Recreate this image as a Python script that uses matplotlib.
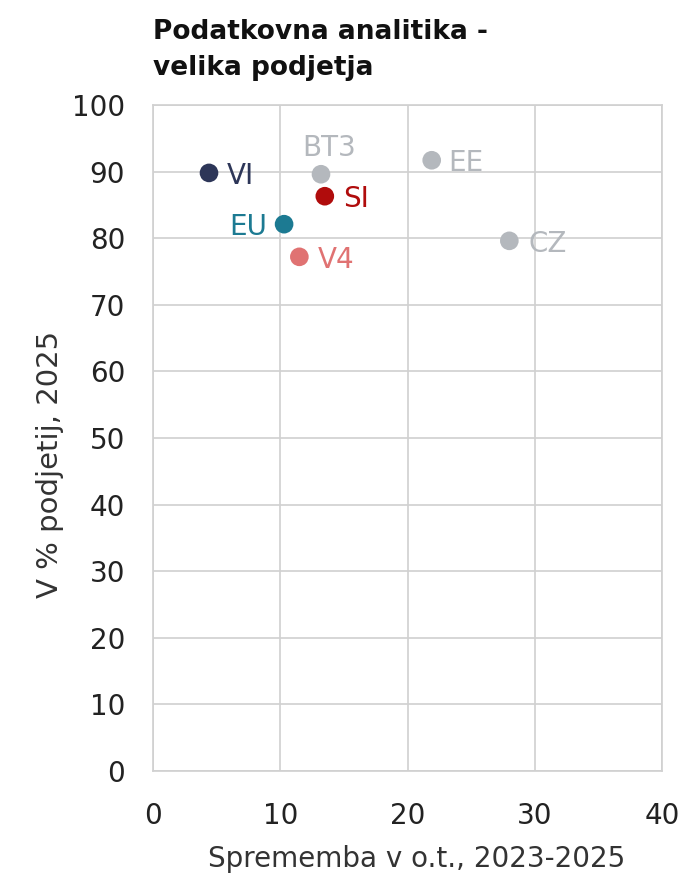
import matplotlib.pyplot as plt

plt.rcParams['font.family'] = 'DejaVu Sans'

labels = ['VI', 'BT3', 'SI', 'EE', 'EU', 'V4', 'CZ']
change = [4.4, 13.2, 13.5, 21.9, 10.3, 11.5, 28.0]
share = [89.8, 89.6, 86.3, 91.7, 82.1, 77.2, 79.6]
colors = ['#2d3658', '#b4b8bd', '#b00c0c', '#b4b8bd', '#1c7a92', '#e07272', '#b4b8bd']
# label placement: offset in points and alignment
offsets = {'VI': (13, 0, 'left'), 'BT3': (6, 21, 'center'), 'SI': (13, 0, 'left'),
           'EE': (12, 0, 'left'), 'EU': (-12, 0, 'right'), 'V4': (13, 0, 'left'),
           'CZ': (14, 0, 'left')}

fig = plt.figure(figsize=(6.84, 8.77), dpi=100)
ax = fig.add_axes([0.2237, 0.1209, 0.7442, 0.7594])

ax.scatter(change, share, c=colors, s=180, zorder=3, linewidths=0)
for lab, x, y, col in zip(labels, change, share, colors):
    dx, dy, ha = offsets[lab]
    ax.annotate(lab, (x, y), xytext=(dx, dy), textcoords='offset points',
                ha=ha, va='center_baseline', color=col, fontsize=20)

ax.set_xlim(0, 40)
ax.set_ylim(0, 100)
ax.set_xticks(range(0, 41, 10))
ax.set_yticks(range(0, 101, 10))
ax.grid(True, color='#d0d0d0', linewidth=1.2)
ax.set_axisbelow(True)
for s in ax.spines.values():
    s.set_color('#d0d0d0')
    s.set_linewidth(1.2)
ax.tick_params(length=0, labelsize=20, colors='#222222')
ax.tick_params(axis='x', pad=22)
ax.tick_params(axis='y', pad=20)

ax.set_xlabel('Sprememba v o.t., 2023-2025', fontsize=20, color='#333333', labelpad=11)
ax.set_ylabel('V % podjetij, 2025', fontsize=21, color='#333333', labelpad=6)
ax.xaxis.label.set_x(0.517)
ax.yaxis.label.set_y(0.46)

fig.text(0.2237, 0.978, 'Podatkovna analitika -\nvelika podjetja', fontsize=19, fontweight='bold',
         va='top', ha='left', linespacing=1.48, color='#111111')

fig.savefig('out.png', dpi=100)
